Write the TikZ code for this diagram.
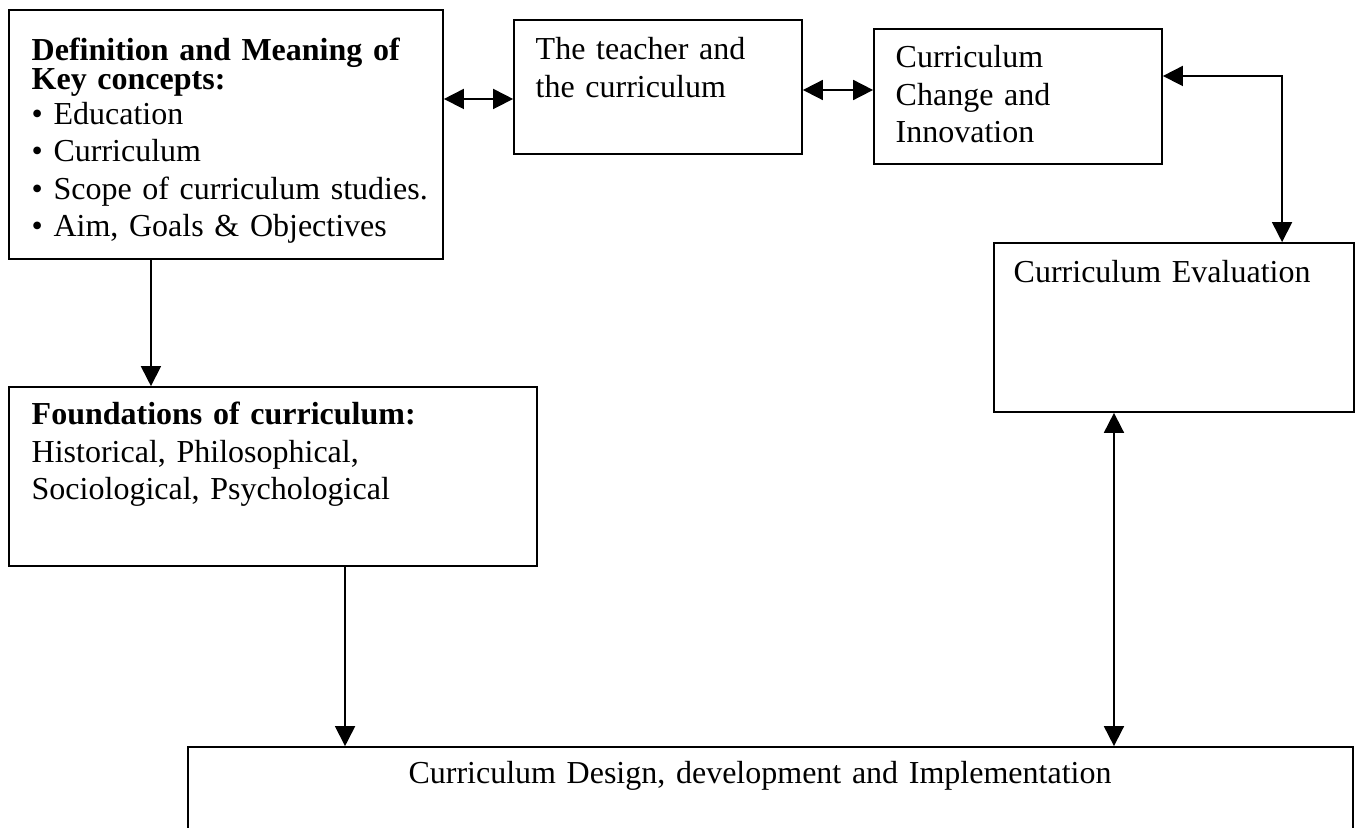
\documentclass[tikz,border=0pt]{standalone}
\usepackage{fontspec}
\setmainfont{Liberation Serif}
\usetikzlibrary{positioning,fit,arrows.meta}
\tikzstyle{box} = [draw,line width=0.5pt,rectangle,inner sep=0]
\tikzstyle{txt} = [inner sep=0,text width=5.2cm,align=left,anchor=base west,font=\fontsize{9.1}{10.6}\selectfont]
\tikzstyle{link} = [line width=0.5pt,-{Triangle[length=0.2cm,width=0.2cm]}]
\tikzstyle{both} = [line width=0.5pt,{Triangle[length=0.2cm,width=0.2cm]}-{Triangle[length=0.2cm,width=0.2cm]}]

\begin{document}
\begin{tikzpicture}[x=0.01cm,y=-0.01cm]
  \useasboundingbox (0,0) rectangle (1361,828);
  % boxes
  \node[box,fit={(9,10) (443,259)}] (defbox) {};
  \node[box,fit={(514,20) (802,154)}] (teachbox) {};
  \node[box,fit={(874,29) (1162,164)}] (chgbox) {};
  \node[box,fit={(994,243) (1354,412)}] (evalbox) {};
  \node[box,fit={(9,387) (537,566)}] (fndbox) {};
  \node[box,fit={(188,747) (1353,880)}] (desbox) {};
  % texts
  \node[txt] (deftxt) at (31,61) {\textbf{Definition and Meaning of}\\[-0.09cm]
    \textbf{Key concepts:}\\[-0.02cm]
    \textbullet\ Education\\
    \textbullet\ Curriculum\\
    \textbullet\ Scope of curriculum studies.\\
    \textbullet\ Aim, Goals \& Objectives};
  \node[txt] (teachtxt) at (535,60) {The teacher and\\the curriculum};
  \node[txt] (chgtxt) at (895,68) {Curriculum\\Change and\\Innovation};
  \node[txt] (evaltxt) at (1013,283) {Curriculum Evaluation};
  \node[txt] (fndtxt) at (31,425) {\textbf{Foundations of curriculum:}\\
    Historical, Philosophical,\\
    Sociological, Psychological};
  \node[txt,anchor=base,align=center,text width=10cm] (destxt) at (760,783) {Curriculum Design, development and Implementation};
  % connectors
  \coordinate (a1) at ([yshift=0.355cm]defbox.east);
  \draw[both] (a1) -- (a1 -| teachbox.west);
  \coordinate (b1) at ([yshift=-0.03cm]teachbox.east);
  \draw[both] (b1) -- (b1 -| chgbox.west);
  \coordinate (c1) at ([yshift=0.205cm]chgbox.east);
  \draw[both] (c1) -| ([xshift=1.08cm]evalbox.north);
  \coordinate (d1) at ([xshift=-0.75cm]defbox.south);
  \draw[link] (d1) -- (d1 |- fndbox.north);
  \coordinate (f1) at ([xshift=0.72cm]fndbox.south);
  \draw[link] (f1) -- (f1 |- desbox.north);
  \coordinate (e1) at ([xshift=-0.6cm]evalbox.south);
  \draw[both] (e1) -- (e1 |- desbox.north);
\end{tikzpicture}
\end{document}
